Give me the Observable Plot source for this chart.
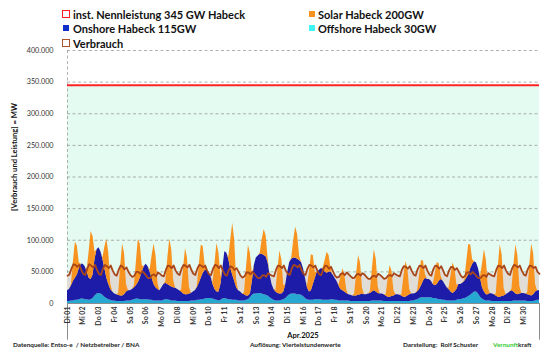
<!DOCTYPE html>
<html><head><meta charset="utf-8">
<script src="https://cdn.jsdelivr.net/npm/d3@7"></script>
<script src="https://cdn.jsdelivr.net/npm/@observablehq/plot@0.6"></script>
<style>
body{margin:0;background:#fff;}
#wrap{position:relative;width:553px;height:355px;font-family:Lato,"Open Sans",sans-serif;overflow:hidden;}
#wrap svg{position:absolute;left:0;top:0;}
.lg{position:absolute;font-weight:bold;font-size:11px;color:#111;white-space:nowrap;line-height:11px;}
.sw{position:absolute;box-sizing:border-box;}
.ft{position:absolute;font-size:6.4px;font-weight:bold;color:#222;white-space:nowrap;line-height:7px;}
</style></head>
<body><div id="wrap"></div>
<script>
// ---- tick labels / categories ----
const dayLabels = ["Di 01","Mi 02","Do 03","Fr 04","Sa 05","So 06","Mo 07","Di 08","Mi 09","Do 10",
  "Fr 11","Sa 12","So 13","Mo 14","Di 15","Mi 16","Do 17","Fr 18","Sa 19","So 20",
  "Mo 21","Di 22","Mi 23","Do 24","Fr 25","Sa 26","So 27","Mo 28","Di 29","Mi 30"];
const yTicks = [0, 50000, 100000, 150000, 200000, 250000, 300000, 350000, 400000];
const monthLabel = "Apr.2025";
const capacityMW = 345000;   // inst. Nennleistung 345 GW
const stepHours = 3;         // one value every 3 hours (00,03,...,21) per day, last = 01.05 00:00

// ---- series values in GW ----
const consumption = [
 44,46,55,62,61,58,61,53,  47,45,55,62,60,57,61,53,  47,45,55,61,59,56,60,52,
 46,44,53,60,58,54,57,50,  45,42,44,50,50,47,51,48,  44,40,40,45,46,43,49,47,
 44,43,53,60,59,56,60,52,  47,45,55,61,60,57,61,53,  47,45,55,61,60,57,60,52,
 46,45,55,61,60,56,60,52,  46,44,53,59,57,53,56,50,  44,41,43,49,49,46,50,47,
 43,40,40,44,45,42,48,46,  44,43,53,60,59,56,60,52,  47,45,55,61,60,57,61,53,
 47,45,55,61,60,57,60,52,  46,45,54,60,59,55,58,51,  44,41,42,47,48,45,49,46,
 43,40,41,46,47,44,48,46,  42,39,39,43,44,42,47,45,  42,39,40,44,45,43,48,46,
 44,43,53,59,58,55,59,52,  46,44,54,60,59,56,60,52,  46,44,54,60,59,55,59,52,
 45,43,52,58,57,53,56,50,  44,41,43,49,49,46,50,47,  43,40,40,44,45,42,48,46,
 44,43,53,60,59,56,60,52,  47,45,55,61,60,57,60,52,  46,44,54,60,59,56,58,50,
 47];
const offshore = [
 3,3,4,4,5,5,6,7,  7,6,6,5,6,8,12,15,  16,15,13,10,8,6,5,4,
 4,3,3,3,3,3,4,4,  4,5,6,7,7,6,6,6,  6,6,5,5,4,4,4,4,
 4,5,6,6,5,4,4,4,  3,3,3,3,3,3,3,4,  4,4,5,5,6,6,7,8,
 8,8,7,6,5,4,5,7,  8,7,6,6,5,5,5,4,  4,4,4,5,6,9,13,15,
 15,16,16,15,14,13,12,9,  7,5,4,4,4,5,6,8,  11,14,15,15,15,14,14,13,
 11,8,6,5,5,5,6,6,  6,6,5,5,5,5,6,6,  5,5,4,4,4,4,4,4,
 3,3,3,3,3,3,3,3,  3,3,3,4,4,4,4,4,  4,3,3,3,3,3,3,3,
 3,3,3,3,3,3,3,4,  4,5,6,8,9,9,9,9,  9,9,8,8,7,6,6,5,
 5,4,4,4,4,4,5,6,  6,7,8,9,11,13,16,18,  18,15,10,7,5,4,4,4,
 3,3,3,3,3,3,3,3,  3,3,3,4,4,4,4,4,  4,4,3,3,3,3,4,5,
 5];
const onshore = [
 17,19,24,31,35,40,49,55,  55,52,44,35,32,37,58,70,  72,67,57,45,32,24,17,14,
 11,11,10,9,9,11,14,16,  16,17,19,21,26,34,44,52,  56,52,45,35,26,21,18,16,
 21,25,26,24,23,22,21,20,  19,17,15,12,11,11,12,12,  14,16,20,27,34,42,45,44,
 42,34,23,16,13,14,25,48,  74,73,64,49,40,30,20,16,  14,11,10,7,6,6,22,45,
 57,59,62,63,62,61,53,36,  23,17,14,12,11,10,12,22,  39,51,55,57,57,56,54,52,
 44,32,19,13,15,25,34,44,  46,49,50,45,43,45,44,39,  35,30,24,18,16,14,12,10,
 10,9,9,9,10,11,12,11,  11,12,13,14,16,14,12,11,  11,11,9,7,7,8,9,11,
 11,10,9,7,7,9,11,11,  11,11,12,14,19,26,31,29,  29,26,22,20,23,29,32,30,
 25,21,18,14,12,14,17,24,  24,25,27,31,34,42,46,48,  46,40,30,18,13,10,10,12,
 12,11,9,7,7,8,9,11,  13,15,17,14,11,10,11,12,  12,11,11,10,9,11,14,15,
 15];
const solar = [
 0,0,2,31,57,46,9,0,  0,0,3,42,76,61,11,0,  0,0,2,34,62,50,9,0,
 0,0,3,45,82,66,12,0,  0,0,3,37,68,54,10,0,  0,0,3,35,64,51,10,0,
 0,0,3,41,74,59,11,0,  0,0,3,40,73,58,11,0,  0,0,2,29,52,42,8,0,
 0,0,3,42,77,62,12,0,  0,0,3,45,82,66,12,0,  0,0,3,44,80,64,12,0,
 0,0,2,23,41,33,6,0,  0,0,3,37,68,54,10,0,  0,0,2,27,49,39,7,0,
 0,0,2,31,57,46,9,0,  0,0,1,18,33,26,5,0,  0,0,1,19,35,28,5,0,
 0,0,3,35,63,50,9,0,  0,0,3,36,65,52,10,0,  0,0,2,28,50,40,8,0,
 0,0,2,31,56,45,8,0,  0,0,2,22,40,32,6,0,  0,0,1,19,35,28,5,0,
 0,0,2,26,48,38,7,0,  0,0,2,26,48,38,7,0,  0,0,3,37,67,54,10,0,
 0,0,3,46,83,66,12,0,  0,0,3,43,78,62,12,0,  0,0,3,45,82,66,12,0,
 0];

const seriesNames = ["Offshore", "Onshore", "Solar"];
const seriesColors = ["#27a8d2", "#1c1ca8", "#f7931e"];

// ---- build tables ----
const hours = consumption.map((_, i) => i * stepHours);
const consRows = hours.map((h, i) => ({h, v: consumption[i] * 1000}));
const stackRows = [];
[offshore, onshore, solar].forEach((arr, k) =>
  arr.forEach((v, i) => stackRows.push({h: hours[i], s: seriesNames[k], v: v * 1000})));
const xDomain = [0, dayLabels.length * 24];
const dayTicks = dayLabels.map((_, i) => i * 24);
const fmt = d3.formatLocale({decimal: ",", thousands: ".", grouping: [3], currency: ["", ""]}).format(",d");

const chart = Plot.plot({
  width: 553, height: 355,
  marginTop: 50, marginBottom: 52, marginLeft: 67, marginRight: 14,
  x: {domain: xDomain, axis: null},
  y: {domain: [0, 400000], axis: null},
  color: {domain: seriesNames, range: seriesColors},
  style: {fontFamily: "Lato, sans-serif", background: "transparent", overflow: "visible"},
  marks: [
    Plot.rect([capacityMW], {x1: xDomain[0], x2: xDomain[1], y1: 0, y2: d => d, fill: "#e3fbf1"}),
    Plot.ruleY(yTicks.filter(v => v > 0), {stroke: "#9c9c9c", strokeDasharray: "3,2.5", strokeWidth: 0.8}),
    Plot.ruleX([xDomain[0]], {stroke: "#9c9c9c", strokeDasharray: "3,2.5", strokeWidth: 0.8}),
    Plot.areaY(consRows, {x: "h", y: "v", fill: "#e0ddd6"}),
    Plot.areaY(stackRows, {x: "h", y: "v", z: "s", fill: "s", order: seriesNames}),
    Plot.lineY(consRows, {x: "h", y: "v", stroke: "#a8461a", strokeWidth: 1.8}),
    Plot.ruleY([capacityMW], {stroke: "#ff2323", strokeWidth: 2}),
    Plot.ruleY([0], {stroke: "#8c8c8c", strokeWidth: 1}),
    Plot.ruleX(xDomain, {y1: 0, y2: -58000, stroke: "#8c8c8c", strokeWidth: 1}),
    Plot.axisX(dayTicks, {tickFormat: h => dayLabels[h / 24], tickRotate: -90, tickSize: 0, tickPadding: 3,
      fontSize: 7, fontWeight: "bold", fill: "#333", label: null}),
    Plot.axisY(yTicks, {tickFormat: fmt, tickSize: 0, tickPadding: 14, fontSize: 7.2, fill: "#333", label: null})
  ]
});
const wrap = document.getElementById("wrap");
wrap.appendChild(chart);

function add(cls, html, style) {
  const d = document.createElement("div");
  d.className = cls; d.innerHTML = html;
  Object.assign(d.style, style);
  wrap.appendChild(d);
  return d;
}
// legend
add("sw", "", {left: "62px", top: "10px", width: "8px", height: "8px", border: "1.6px solid #ff2020", background: "#fff"});
add("lg", "inst. Nennleistung 345 GW Habeck", {left: "73px", top: "9px"});
add("sw", "", {left: "309px", top: "11px", width: "6px", height: "6px", background: "#f7931e"});
add("lg", "Solar Habeck 200GW", {left: "318px", top: "9px"});
add("sw", "", {left: "63px", top: "25px", width: "6px", height: "6px", background: "#1030c8"});
add("lg", "Onshore Habeck 115GW", {left: "73px", top: "23px"});
add("sw", "", {left: "309px", top: "25px", width: "6px", height: "6px", background: "#40f2f2"});
add("lg", "Offshore Habeck 30GW", {left: "318px", top: "23px"});
add("sw", "", {left: "62px", top: "39px", width: "8px", height: "8px", border: "1.6px solid #b0532a", background: "#fff"});
add("lg", "Verbrauch", {left: "73px", top: "38px"});
// y label
add("ft", "[Verbrauch und Leistung] = MW", {left: "14px", top: "157px", fontSize: "7.6px",
  transform: "translate(-50%,-50%) rotate(-90deg)", color: "#111"});
// month label
add("ft", monthLabel, {left: "303px", top: "335px", fontSize: "7.6px", transform: "translate(-50%,-50%)", color: "#111"});
// footer
add("ft", "Datenquelle: Entso-e&nbsp; / Netzbetreiber / BNA", {left: "13px", top: "341px"});
add("ft", "Auflösung: Viertelstundenwerte", {left: "250px", top: "341px"});
add("ft", "Darstellung:&nbsp; Rolf Schuster", {left: "403px", top: "341px"});
add("ft", "<span style='color:#33cc33'>Vernunft</span>kraft", {left: "493px", top: "341px"});
</script></body></html>
